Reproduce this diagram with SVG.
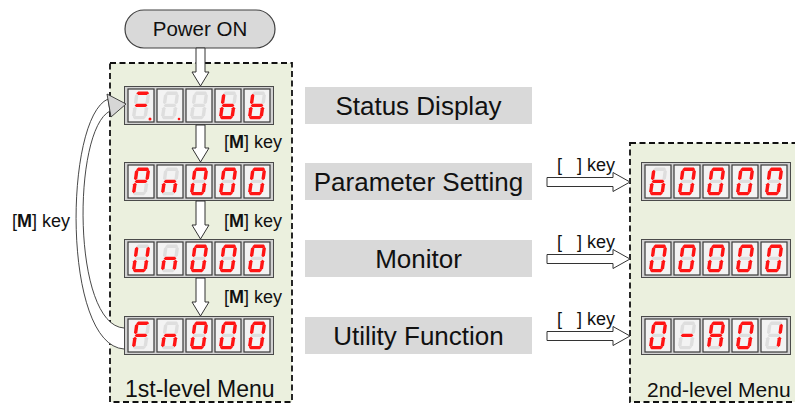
<svg xmlns="http://www.w3.org/2000/svg" xmlns:xlink="http://www.w3.org/1999/xlink" width="795" height="405" viewBox="0 0 795 405">
<style>
text{font-family:"Liberation Sans",Arial,sans-serif;fill:#111}
.lbl{font-size:26px;text-anchor:middle}
.key{font-size:18px}
.menu{font-size:23px}
.frame{fill:#EBF0DE;stroke:#111;stroke-width:1.8;stroke-dasharray:6 3.5}
.lbox{fill:#D9D9D9}
.harrow{fill:#fff;stroke:#333;stroke-width:1}
.on{fill:#FF1414}
.off{fill:#DEDEDE}
.dp{fill:#FF1414}
</style>
<defs>
<path id="sa" d="M1,1.6 L2.6,0 L11.4,0 L13,1.6 L11.4,3.2 L2.6,3.2Z"/>
<path id="sg" d="M1,13 L2.6,11.4 L11.4,11.4 L13,13 L11.4,14.6 L2.6,14.6Z"/>
<path id="sd" d="M1,24.4 L2.6,22.8 L11.4,22.8 L13,24.4 L11.4,26 L2.6,26Z"/>
<path id="sf" d="M1.6,2 L3.2,3.6 L3.2,10.4 L1.6,12 L0,10.4 L0,3.6Z"/>
<path id="sb" d="M12.4,2 L14,3.6 L14,10.4 L12.4,12 L10.8,10.4 L10.8,3.6Z"/>
<path id="se" d="M1.6,14 L3.2,15.6 L3.2,22.4 L1.6,24 L0,22.4 L0,15.6Z"/>
<path id="sc" d="M12.4,14 L14,15.6 L14,22.4 L12.4,24 L10.8,22.4 L10.8,15.6Z"/>
<g id="box">
<rect x="0.5" y="0.5" width="149" height="38" fill="#D2D2D2" stroke="#4a4a4a" stroke-width="1"/>
<rect x="4" y="3" width="26" height="33" fill="#F3F3F3" stroke="#3a3a3a" stroke-width="1.2"/>
<rect x="33" y="3" width="26" height="33" fill="#F3F3F3" stroke="#3a3a3a" stroke-width="1.2"/>
<rect x="62" y="3" width="26" height="33" fill="#F3F3F3" stroke="#3a3a3a" stroke-width="1.2"/>
<rect x="91" y="3" width="26" height="33" fill="#F3F3F3" stroke="#3a3a3a" stroke-width="1.2"/>
<rect x="120" y="3" width="26" height="33" fill="#F3F3F3" stroke="#3a3a3a" stroke-width="1.2"/>
</g>
<g id="g0" transform="skewX(-8) scale(1.07)"><use href="#sa" class="on"/><use href="#sb" class="on"/><use href="#sc" class="on"/><use href="#sd" class="on"/><use href="#se" class="on"/><use href="#sf" class="on"/><use href="#sg" class="off"/></g>
<g id="g1" transform="skewX(-8) scale(1.07)"><use href="#sa" class="off"/><use href="#sb" class="on"/><use href="#sc" class="on"/><use href="#sd" class="off"/><use href="#se" class="off"/><use href="#sf" class="off"/><use href="#sg" class="off"/></g>
<g id="gP" transform="skewX(-8) scale(1.07)"><use href="#sa" class="on"/><use href="#sb" class="on"/><use href="#sc" class="off"/><use href="#sd" class="off"/><use href="#se" class="on"/><use href="#sf" class="on"/><use href="#sg" class="on"/></g>
<g id="gn" transform="skewX(-8) scale(1.07)"><use href="#sa" class="off"/><use href="#sb" class="off"/><use href="#sc" class="on"/><use href="#sd" class="off"/><use href="#se" class="on"/><use href="#sf" class="off"/><use href="#sg" class="on"/></g>
<g id="gU" transform="skewX(-8) scale(1.07)"><use href="#sa" class="off"/><use href="#sb" class="on"/><use href="#sc" class="on"/><use href="#sd" class="on"/><use href="#se" class="on"/><use href="#sf" class="on"/><use href="#sg" class="off"/></g>
<g id="gF" transform="skewX(-8) scale(1.07)"><use href="#sa" class="on"/><use href="#sb" class="off"/><use href="#sc" class="off"/><use href="#sd" class="off"/><use href="#se" class="on"/><use href="#sf" class="on"/><use href="#sg" class="on"/></g>
<g id="gb" transform="skewX(-8) scale(1.07)"><use href="#sa" class="off"/><use href="#sb" class="off"/><use href="#sc" class="on"/><use href="#sd" class="on"/><use href="#se" class="on"/><use href="#sf" class="on"/><use href="#sg" class="on"/></g>
<g id="gA" transform="skewX(-8) scale(1.07)"><use href="#sa" class="on"/><use href="#sb" class="on"/><use href="#sc" class="on"/><use href="#sd" class="off"/><use href="#se" class="on"/><use href="#sf" class="on"/><use href="#sg" class="on"/></g>
<g id="gm" transform="skewX(-8) scale(1.07)"><use href="#sa" class="off"/><use href="#sb" class="off"/><use href="#sc" class="off"/><use href="#sd" class="off"/><use href="#se" class="off"/><use href="#sf" class="off"/><use href="#sg" class="on"/></g>
<g id="gx" transform="skewX(-8) scale(1.07)"><use href="#sa" class="off"/><use href="#sb" class="off"/><use href="#sc" class="off"/><use href="#sd" class="off"/><use href="#se" class="off"/><use href="#sf" class="off"/><use href="#sg" class="off"/></g>
<g id="gs" transform="skewX(-8) scale(1.07)"><use href="#sa" class="on"/><use href="#sb" class="off"/><use href="#sc" class="off"/><use href="#sd" class="off"/><use href="#se" class="off"/><use href="#sf" class="off"/><use href="#sg" class="on"/></g>
</defs>

<rect width="795" height="405" fill="#fff"/>

<g id="frame1"><rect class="frame" x="110" y="63" width="182" height="339"/><text class="menu" x="125" y="397">1st-level Menu</text></g>
<g id="frame2"><rect class="frame" x="630" y="143" width="170" height="259"/><text class="menu" x="647" y="397" style="font-size:21px">2nd-level Menu</text></g>

<g id="power-on">
<rect x="125" y="10" width="150" height="38" rx="19" fill="#D9D9D9" stroke="#404040" stroke-width="1.2"/>
<text x="200" y="36" style="font-size:20.5px;text-anchor:middle">Power ON</text>
</g>

<g id="labels">
<g id="lbl-status"><rect class="lbox" x="305" y="87" width="227" height="37"/><text class="lbl" x="418.5" y="115">Status Display</text></g>
<g id="lbl-param"><rect class="lbox" x="305" y="163" width="227" height="37"/><text class="lbl" x="418.5" y="191">Parameter Setting</text></g>
<g id="lbl-monitor"><rect class="lbox" x="305" y="240" width="227" height="37"/><text class="lbl" x="418.5" y="268">Monitor</text></g>
<g id="lbl-utility"><rect class="lbox" x="305" y="317" width="227" height="37"/><text class="lbl" x="418.5" y="345">Utility Function</text></g>
</g>

<g id="disp-status" transform="translate(124,86)">
<use href="#box"/>
<use href="#gs" x="11.5" y="5.5"/><use href="#gx" x="40.5" y="5.5"/><use href="#gx" x="69.5" y="5.5"/><use href="#gb" x="98.5" y="5.5"/><use href="#gb" x="127.5" y="5.5"/>
<circle class="dp" cx="26" cy="33" r="1.5"/><circle class="dp" cx="55" cy="33" r="1.3"/>
</g>
<g id="disp-pn" transform="translate(124,162)">
<use href="#box"/>
<use href="#gP" x="11.5" y="5.5"/><use href="#gn" x="40.5" y="5.5"/><use href="#g0" x="69.5" y="5.5"/><use href="#g0" x="98.5" y="5.5"/><use href="#g0" x="127.5" y="5.5"/>
</g>
<g id="disp-un" transform="translate(124,239)">
<use href="#box"/>
<use href="#gU" x="11.5" y="5.5"/><use href="#gn" x="40.5" y="5.5"/><use href="#g0" x="69.5" y="5.5"/><use href="#g0" x="98.5" y="5.5"/><use href="#g0" x="127.5" y="5.5"/>
</g>
<g id="disp-fn" transform="translate(124,316)">
<use href="#box"/>
<use href="#gF" x="11.5" y="5.5"/><use href="#gn" x="40.5" y="5.5"/><use href="#g0" x="69.5" y="5.5"/><use href="#g0" x="98.5" y="5.5"/><use href="#g0" x="127.5" y="5.5"/>
</g>
<g id="disp-b0000" transform="translate(641,162)">
<use href="#box"/>
<use href="#gb" x="11.5" y="5.5"/><use href="#g0" x="40.5" y="5.5"/><use href="#g0" x="69.5" y="5.5"/><use href="#g0" x="98.5" y="5.5"/><use href="#g0" x="127.5" y="5.5"/>
</g>
<g id="disp-00000" transform="translate(641,239)">
<use href="#box"/>
<use href="#g0" x="11.5" y="5.5"/><use href="#g0" x="40.5" y="5.5"/><use href="#g0" x="69.5" y="5.5"/><use href="#g0" x="98.5" y="5.5"/><use href="#g0" x="127.5" y="5.5"/>
</g>
<g id="disp-0A01" transform="translate(641,316)">
<use href="#box"/>
<use href="#g0" x="11.5" y="5.5"/><use href="#gm" x="40.5" y="5.5"/><use href="#gA" x="69.5" y="5.5"/><use href="#g0" x="98.5" y="5.5"/><use href="#g1" x="127.5" y="5.5"/>
</g>

<g id="connectors">
<path class="harrow" d="M196,48 V72 H192 L200.5,86 L209,72 H205 V48 Z"/>
<path class="harrow" d="M196,125 V148 H192 L200.5,162 L209,148 H205 V125 Z"/>
<path class="harrow" d="M196,201 V225 H192 L200.5,239 L209,225 H205 V201 Z"/>
<path class="harrow" d="M196,278 V302 H192 L200.5,316 L209,302 H205 V278 Z"/>
<text class="key" x="224" y="148">[<tspan font-weight="bold">M</tspan>] key</text>
<text class="key" x="224" y="227">[<tspan font-weight="bold">M</tspan>] key</text>
<text class="key" x="224" y="303">[<tspan font-weight="bold">M</tspan>] key</text>

<path d="M124,349 C62,345 64,118 108,99 L110,111 C72,130 72,325 124,328" fill="#fff" stroke="#333" stroke-width="0.9"/>
<path d="M107,94 L126,104 L111,117 Z" fill="#D6D6D6" stroke="#333" stroke-width="0.9"/>
<text class="key" x="12" y="227">[<tspan font-weight="bold">M</tspan>] key</text>

<path class="harrow" d="M547,177.5 H613 V172.5 L630,182 L613,191.5 V186.5 H547 Z"/>
<path class="harrow" d="M547,254.5 H613 V249.5 L630,259 L613,268.5 V263.5 H547 Z"/>
<path class="harrow" d="M547,331.5 H613 V326.5 L630,336 L613,345.5 V340.5 H547 Z"/>
<text class="key" x="557" y="171" xml:space="preserve">[   ] key</text>
<text class="key" x="557" y="248" xml:space="preserve">[   ] key</text>
<text class="key" x="557" y="325" xml:space="preserve">[   ] key</text>
</g>
</svg>
